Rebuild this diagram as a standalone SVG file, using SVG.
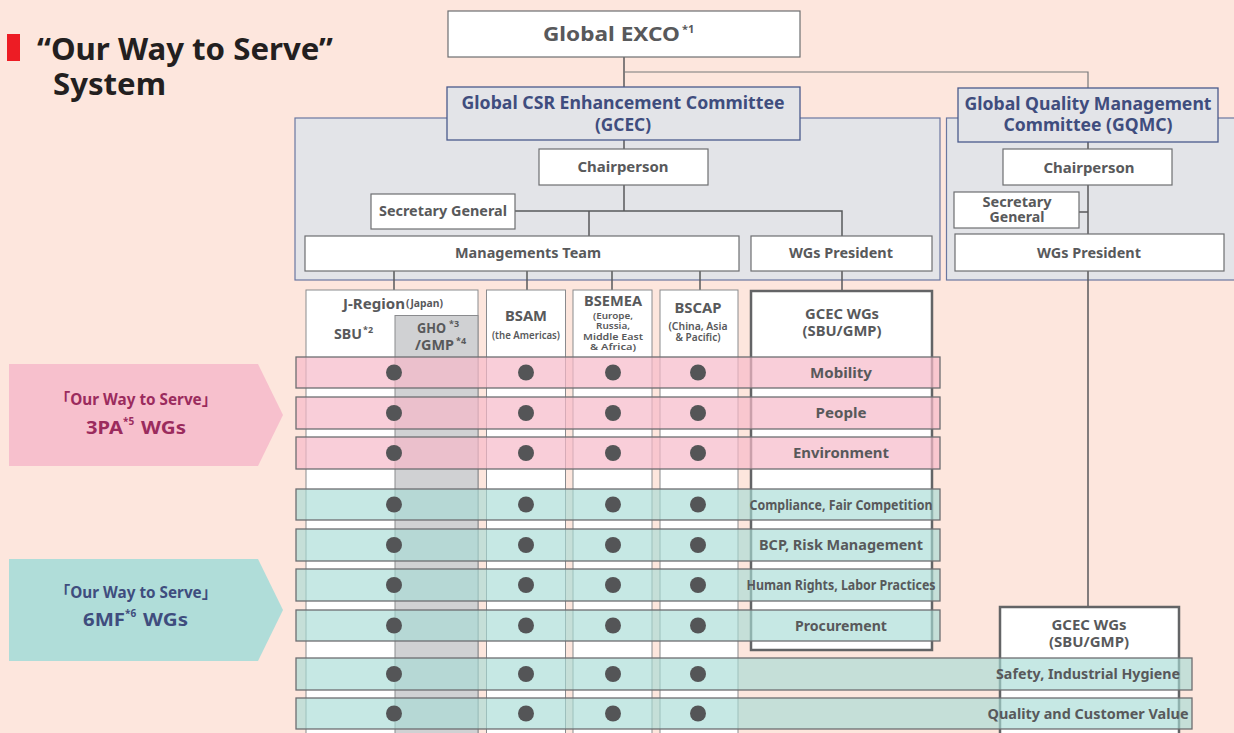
<svg xmlns="http://www.w3.org/2000/svg" width="1234" height="733" viewBox="0 0 1234 733">
<defs>
<style>
.t{font-family:"Noto Sans","Open Sans","Liberation Sans",sans-serif;font-weight:700;fill:#58595b}
.c{text-anchor:middle}
.blue{fill:#3f4d7e}
.box{fill:#fff;stroke:#6d6e71;stroke-width:1.2}
.hd{fill:#e3e4e8;stroke:#4b5a8c;stroke-width:1.3}
.panel{fill:#e3e4e8;stroke:#6b77a0;stroke-width:1.2}
.col{fill:#fff;stroke:#8a8b8e;stroke-width:1}
.pink{fill:#f7b9c9;fill-opacity:.7;stroke:#6d6e71;stroke-width:1.3}
.teal{fill:#a8dcd6;fill-opacity:.65;stroke:#6d6e71;stroke-width:1.3}
.dot{fill:#545557}
.ln{fill:none;stroke:#58595b;stroke-width:1.5}
.wg{fill:#fff;stroke:#636466;stroke-width:2.5}
.sm{font-weight:600}
</style>
</defs>
<rect width="1234" height="733" fill="#fde6dd"/>

<g id="title">
<rect x="7" y="34" width="13" height="27" fill="#ed1c24"/>
<text class="t" x="37" y="60" font-size="31" textLength="296" lengthAdjust="spacingAndGlyphs" style="fill:#231f20">“Our Way to Serve”</text>
<text class="t" x="53" y="95" font-size="31" textLength="113" lengthAdjust="spacingAndGlyphs" style="fill:#231f20">System</text>
</g>

<g id="panels">
<rect class="panel" x="295" y="118" width="645" height="162"/>
<rect class="panel" x="946.5" y="118" width="300" height="162"/>
</g>

<g id="connectors">
<path class="ln" d="M624,57V87"/>
<path class="ln" d="M624,72H1088V88" style="stroke:#77787b;stroke-width:1.2"/>
<path class="ln" d="M624,140V211"/>
<path class="ln" d="M515,211H842V236"/>
<path class="ln" d="M589,211V236"/>
<path class="ln" d="M394,271V290M527,271V290M612,271V290M700,271V290"/>
<path class="ln" d="M842,271V291"/>
<path class="ln" d="M1088,142V607"/>
<path class="ln" d="M1079,212H1088"/>
</g>

<g id="exco">
<rect class="box" x="448" y="11" width="352" height="46"/>
<text class="t" x="543" y="41" font-size="20" textLength="137" lengthAdjust="spacingAndGlyphs">Global EXCO</text>
<text class="t" x="682" y="33" font-size="11">*1</text>
</g>

<g id="gcec">
<rect class="hd" x="447" y="87" width="353" height="53"/>
<text class="t c blue" x="623" y="109" font-size="17" textLength="323" lengthAdjust="spacingAndGlyphs">Global CSR Enhancement Committee</text>
<text class="t c blue" x="623" y="131" font-size="17" textLength="56" lengthAdjust="spacingAndGlyphs">(GCEC)</text>
</g>

<g id="gqmc">
<rect class="hd" x="958" y="88" width="260" height="54"/>
<text class="t c blue" x="1088" y="110" font-size="17" textLength="247" lengthAdjust="spacingAndGlyphs">Global Quality Management</text>
<text class="t c blue" x="1088" y="131" font-size="17" textLength="169" lengthAdjust="spacingAndGlyphs">Committee (GQMC)</text>
</g>

<g id="gcec-chair">
<rect class="box" x="539" y="149" width="169" height="36"/>
<text class="t c" x="623" y="172" font-size="15" textLength="91" lengthAdjust="spacingAndGlyphs">Chairperson</text>
</g>
<g id="gcec-secretary">
<rect class="box" x="371" y="194" width="144" height="35"/>
<text class="t c" x="443" y="216" font-size="14" textLength="128" lengthAdjust="spacingAndGlyphs">Secretary General</text>
</g>
<g id="gcec-mgmt">
<rect class="box" x="305" y="236" width="434" height="35"/>
<text class="t c" x="528" y="258" font-size="14" textLength="146" lengthAdjust="spacingAndGlyphs">Managements Team</text>
</g>
<g id="gcec-wgpres">
<rect class="box" x="751" y="236" width="181" height="35"/>
<text class="t c" x="841" y="258" font-size="14" textLength="104" lengthAdjust="spacingAndGlyphs">WGs President</text>
</g>

<g id="gqmc-chair">
<rect class="box" x="1003" y="149" width="169" height="36"/>
<text class="t c" x="1089" y="173" font-size="15" textLength="91" lengthAdjust="spacingAndGlyphs">Chairperson</text>
</g>
<g id="gqmc-secretary">
<rect class="box" x="954" y="192" width="125" height="36"/>
<text class="t c" x="1017" y="207" font-size="14" textLength="69" lengthAdjust="spacingAndGlyphs">Secretary</text>
<text class="t c" x="1017" y="222" font-size="14" textLength="55" lengthAdjust="spacingAndGlyphs">General</text>
</g>
<g id="gqmc-wgpres">
<rect class="box" x="955" y="234" width="269" height="37"/>
<text class="t c" x="1089" y="258" font-size="14" textLength="104" lengthAdjust="spacingAndGlyphs">WGs President</text>
</g>

<g id="col-jregion">
<rect class="col" x="306" y="290" width="172" height="460"/>
<rect x="395" y="315.5" width="83" height="440" fill="#d0d1d3" stroke="#8a8b8e" stroke-width="1"/>
<text class="t" x="343" y="309" font-size="14" textLength="62" lengthAdjust="spacingAndGlyphs">J-Region</text>
<text class="t" x="406" y="307" font-size="10" textLength="37" lengthAdjust="spacingAndGlyphs">(Japan)</text>
<text class="t" x="334" y="339" font-size="14" textLength="28" lengthAdjust="spacingAndGlyphs">SBU</text>
<text class="t" x="363" y="333" font-size="9">*2</text>
<text class="t" x="417" y="333" font-size="14" textLength="29" lengthAdjust="spacingAndGlyphs">GHO</text>
<text class="t" x="449" y="327" font-size="9">*3</text>
<text class="t" x="415" y="350" font-size="14" textLength="39" lengthAdjust="spacingAndGlyphs">/GMP</text>
<text class="t" x="456" y="344" font-size="9">*4</text>
</g>
<g id="col-bsam">
<rect class="col" x="486.5" y="290" width="79" height="460"/>
<text class="t c" x="526" y="321" font-size="15" textLength="42" lengthAdjust="spacingAndGlyphs">BSAM</text>
<text class="t c sm" x="526" y="339" font-size="10" textLength="68" lengthAdjust="spacingAndGlyphs">(the Americas)</text>
</g>
<g id="col-bsemea">
<rect class="col" x="573" y="290" width="79" height="460"/>
<text class="t c" x="613" y="306" font-size="14" textLength="58" lengthAdjust="spacingAndGlyphs">BSEMEA</text>
<text class="t c sm" x="613" y="319" font-size="9" textLength="40" lengthAdjust="spacingAndGlyphs">(Europe,</text>
<text class="t c sm" x="613" y="329" font-size="9" textLength="34" lengthAdjust="spacingAndGlyphs">Russia,</text>
<text class="t c sm" x="613" y="340" font-size="9" textLength="60" lengthAdjust="spacingAndGlyphs">Middle East</text>
<text class="t c sm" x="613" y="350" font-size="9" textLength="46" lengthAdjust="spacingAndGlyphs">&amp; Africa)</text>
</g>
<g id="col-bscap">
<rect class="col" x="660" y="290" width="78" height="460"/>
<text class="t c" x="698" y="313" font-size="15" textLength="47" lengthAdjust="spacingAndGlyphs">BSCAP</text>
<text class="t c sm" x="698" y="330" font-size="10" textLength="59" lengthAdjust="spacingAndGlyphs">(China, Asia</text>
<text class="t c sm" x="698" y="341" font-size="10" textLength="45" lengthAdjust="spacingAndGlyphs">&amp; Pacific)</text>
</g>
<g id="gcec-wgs">
<rect class="wg" x="751" y="291" width="181" height="359"/>
<text class="t c" x="842" y="319" font-size="14" textLength="74" lengthAdjust="spacingAndGlyphs">GCEC WGs</text>
<text class="t c" x="842" y="336" font-size="14" textLength="79" lengthAdjust="spacingAndGlyphs">(SBU/GMP)</text>
</g>
<g id="gqmc-wgs">
<rect class="wg" x="1000" y="607" width="179" height="140"/>
<text class="t c" x="1089" y="630" font-size="14" textLength="75" lengthAdjust="spacingAndGlyphs">GCEC WGs</text>
<text class="t c" x="1089" y="647" font-size="14" textLength="80" lengthAdjust="spacingAndGlyphs">(SBU/GMP)</text>
</g>

<g id="arrow-3pa">
<path d="M9,364H258L283,415L258,466H9Z" fill="#f7c0cd"/>
<text class="t c" x="136" y="405" font-size="16" textLength="162" lengthAdjust="spacingAndGlyphs" style="fill:#9b2b5d;font-family:'Noto Sans','Noto Sans CJK JP',sans-serif">「Our Way to Serve」</text>
<text class="t" x="86" y="434" font-size="18" textLength="37" lengthAdjust="spacingAndGlyphs" style="fill:#9b2b5d">3PA</text>
<text class="t" x="123" y="425" font-size="10" style="fill:#9b2b5d">*5</text>
<text class="t" x="141" y="434" font-size="18" textLength="45" lengthAdjust="spacingAndGlyphs" style="fill:#9b2b5d">WGs</text>
</g>
<g id="arrow-6mf">
<path d="M9,559H258L283,610L258,661H9Z" fill="#b0ddd9"/>
<text class="t c" x="136" y="598" font-size="16" textLength="162" lengthAdjust="spacingAndGlyphs" style="fill:#3f4d7e;font-family:'Noto Sans','Noto Sans CJK JP',sans-serif">「Our Way to Serve」</text>
<text class="t" x="83" y="626" font-size="18" textLength="42" lengthAdjust="spacingAndGlyphs" style="fill:#3f4d7e">6MF</text>
<text class="t" x="125" y="617" font-size="10" style="fill:#3f4d7e">*6</text>
<text class="t" x="143" y="626" font-size="18" textLength="45" lengthAdjust="spacingAndGlyphs" style="fill:#3f4d7e">WGs</text>
</g>

<g id="rows">
<rect class="pink" x="296" y="357" width="644" height="31"/>
<rect class="pink" x="296" y="397" width="644" height="32"/>
<rect class="pink" x="296" y="437" width="644" height="32"/>
<rect class="teal" x="296" y="489" width="644" height="31"/>
<rect class="teal" x="296" y="529" width="644" height="32"/>
<rect class="teal" x="296" y="569" width="644" height="32"/>
<rect class="teal" x="296" y="610" width="644" height="31"/>
<rect class="teal" x="296" y="658" width="896" height="32"/>
<rect class="teal" x="296" y="698" width="896" height="31"/>
</g>

<g id="dots">
<circle class="dot" cx="394" cy="372.5" r="8"/><circle class="dot" cx="526" cy="372.5" r="8"/><circle class="dot" cx="613" cy="372.5" r="8"/><circle class="dot" cx="698" cy="372.5" r="8"/>
<circle class="dot" cx="394" cy="413" r="8"/><circle class="dot" cx="526" cy="413" r="8"/><circle class="dot" cx="613" cy="413" r="8"/><circle class="dot" cx="698" cy="413" r="8"/>
<circle class="dot" cx="394" cy="453" r="8"/><circle class="dot" cx="526" cy="453" r="8"/><circle class="dot" cx="613" cy="453" r="8"/><circle class="dot" cx="698" cy="453" r="8"/>
<circle class="dot" cx="394" cy="504.5" r="8"/><circle class="dot" cx="526" cy="504.5" r="8"/><circle class="dot" cx="613" cy="504.5" r="8"/><circle class="dot" cx="698" cy="504.5" r="8"/>
<circle class="dot" cx="394" cy="545" r="8"/><circle class="dot" cx="526" cy="545" r="8"/><circle class="dot" cx="613" cy="545" r="8"/><circle class="dot" cx="698" cy="545" r="8"/>
<circle class="dot" cx="394" cy="585" r="8"/><circle class="dot" cx="526" cy="585" r="8"/><circle class="dot" cx="613" cy="585" r="8"/><circle class="dot" cx="698" cy="585" r="8"/>
<circle class="dot" cx="394" cy="625.5" r="8"/><circle class="dot" cx="526" cy="625.5" r="8"/><circle class="dot" cx="613" cy="625.5" r="8"/><circle class="dot" cx="698" cy="625.5" r="8"/>
<circle class="dot" cx="394" cy="674" r="8"/><circle class="dot" cx="526" cy="674" r="8"/><circle class="dot" cx="613" cy="674" r="8"/><circle class="dot" cx="698" cy="674" r="8"/>
<circle class="dot" cx="394" cy="713.5" r="8"/><circle class="dot" cx="526" cy="713.5" r="8"/><circle class="dot" cx="613" cy="713.5" r="8"/><circle class="dot" cx="698" cy="713.5" r="8"/>
</g>

<g id="row-labels">
<text class="t c" x="841" y="378" font-size="14" textLength="62" lengthAdjust="spacingAndGlyphs">Mobility</text>
<text class="t c" x="841" y="418" font-size="14" textLength="51" lengthAdjust="spacingAndGlyphs">People</text>
<text class="t c" x="841" y="458" font-size="14" textLength="96" lengthAdjust="spacingAndGlyphs">Environment</text>
<text class="t c" x="841" y="510" font-size="14" textLength="183" lengthAdjust="spacingAndGlyphs">Compliance, Fair Competition</text>
<text class="t c" x="841" y="550" font-size="14" textLength="164" lengthAdjust="spacingAndGlyphs">BCP, Risk Management</text>
<text class="t c" x="841" y="590" font-size="14" textLength="189" lengthAdjust="spacingAndGlyphs">Human Rights, Labor Practices</text>
<text class="t c" x="841" y="631" font-size="14" textLength="92" lengthAdjust="spacingAndGlyphs">Procurement</text>
<text class="t c" x="1088" y="679" font-size="14" textLength="184" lengthAdjust="spacingAndGlyphs">Safety, Industrial Hygiene</text>
<text class="t c" x="1088" y="719" font-size="14" textLength="201" lengthAdjust="spacingAndGlyphs">Quality and Customer Value</text>
</g>
</svg>
